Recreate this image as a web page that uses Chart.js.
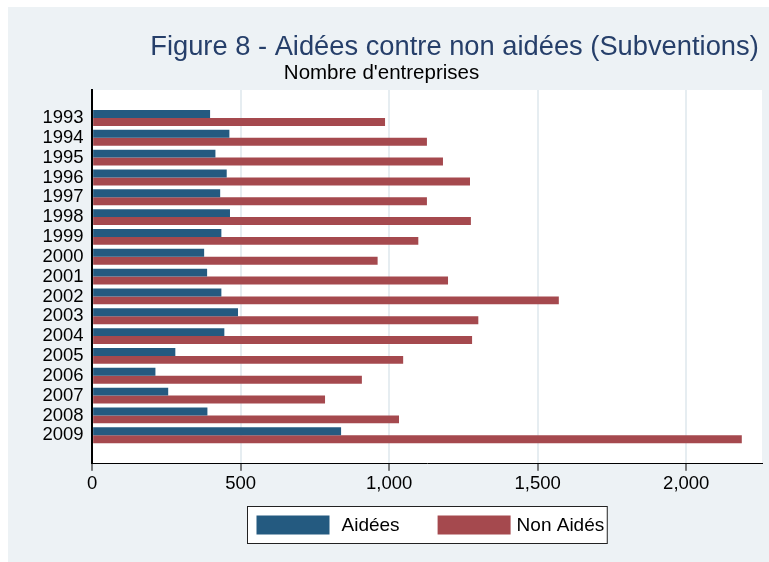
<!DOCTYPE html>
<html>
<head>
<meta charset="utf-8">
<script src="https://cdn.jsdelivr.net/npm/chart.js@4/dist/chart.umd.min.js"></script>
<style>
  html, body { margin: 0; padding: 0; background: #fff; }
  #fig { position: absolute; left: 8px; top: 7px; width: 761px; height: 555px; background: #EDF2F5; }
</style>
</head>
<body>
<div id="fig"><canvas id="chartSubv" width="761" height="555"></canvas></div>
<script>
// Données (nombre d'entreprises)
const annees = [1993, 1994, 1995, 1996, 1997, 1998, 1999, 2000, 2001, 2002, 2003, 2004, 2005, 2006, 2007, 2008, 2009];
const aidees = [397, 462, 415, 453, 431, 464, 435, 377, 387, 435, 491, 445, 280, 213, 256, 388, 838];
const nonAidees = [986, 1127, 1181, 1272, 1127, 1275, 1098, 961, 1198, 1571, 1300, 1279, 1047, 908, 784, 1033, 2187];
const ticksX = [0, 500, 1000, 1500, 2000];

const titre = 'Figure 8 - Aidées contre non aidées (Subventions)';
const sousTitre = "Nombre d'entreprises";

Chart.defaults.font.family = "'Liberation Sans', Arial, sans-serif";
Chart.defaults.color = '#000';

// fond blanc de la zone du graphique
const fondBlanc = {
  id: 'fondBlanc',
  beforeDraw(chart) {
    const { ctx, chartArea: a } = chart;
    ctx.save();
    ctx.fillStyle = '#fff';
    ctx.fillRect(a.left, a.top, a.right - a.left, a.bottom - a.top);
    ctx.restore();
  }
};

// titre + sous-titre
const titresStata = {
  id: 'titresStata',
  afterDraw(chart) {
    const ctx = chart.ctx;
    ctx.save();
    ctx.textAlign = 'center';
    ctx.textBaseline = 'alphabetic';
    ctx.fillStyle = '#263F6A';
    ctx.font = "27.3px 'Liberation Sans', Arial, sans-serif";
    ctx.fillText(titre, 446.5, 48);
    ctx.fillStyle = '#000';
    ctx.font = "20.5px 'Liberation Sans', Arial, sans-serif";
    ctx.fillText(sousTitre, 373.5, 72);
    ctx.restore();
  }
};

// légende encadrée en bas
const legendeStata = {
  id: 'legendeStata',
  afterDraw(chart) {
    const ctx = chart.ctx;
    const ds = chart.data.datasets;
    ctx.save();
    ctx.font = "19px 'Liberation Sans', Arial, sans-serif";
    const w0 = ctx.measureText(ds[0].label).width;
    const w1 = ctx.measureText(ds[1].label).width;
    const boxW = 9 + 73 + 12 + w0 + 38 + 73 + 6 + w1 + 3;
    const cx = (chart.chartArea.left + chart.chartArea.right) / 2 - 0.5;
    const x0 = Math.round(cx - boxW / 2) + 0.5, y0 = 499.5, h = 37;
    ctx.fillStyle = '#fff';
    ctx.fillRect(x0, y0, boxW, h);
    ctx.strokeStyle = '#222';
    ctx.lineWidth = 1;
    ctx.strokeRect(x0, y0, boxW, h);
    ctx.textBaseline = 'middle';
    let x = x0 + 9;
    ctx.fillStyle = ds[0].backgroundColor;
    ctx.fillRect(x, y0 + 9, 73, 19);
    x += 73 + 12;
    ctx.fillStyle = '#000';
    ctx.fillText(ds[0].label, x, y0 + h / 2 + 1);
    x += w0 + 38;
    ctx.fillStyle = ds[1].backgroundColor;
    ctx.fillRect(x, y0 + 9, 73, 19);
    x += 73 + 6;
    ctx.fillStyle = '#000';
    ctx.fillText(ds[1].label, x, y0 + h / 2 + 1);
    ctx.restore();
  }
};

const ctxSubv = document.getElementById('chartSubv').getContext('2d');

new Chart(ctxSubv, {
  type: 'bar',
  data: {
    datasets: [{
      label: 'Aidées',
      data: annees.map((a, i) => ({ x: aidees[i], y: a })),
      backgroundColor: '#245A80',
      categoryPercentage: 0.8,
      barPercentage: 1
    }, {
      label: 'Non Aidés',
      data: annees.map((a, i) => ({ x: nonAidees[i], y: a })),
      backgroundColor: '#A5494E',
      categoryPercentage: 0.8,
      barPercentage: 1
    }]
  },
  options: {
    indexAxis: 'y',
    responsive: false,
    animation: false,
    layout: { padding: { left: 26, right: 7, top: 83, bottom: 65 } },
    plugins: {
      legend: { display: false },
      title: { display: false },
      tooltip: { enabled: false }
    },
    scales: {
      x: {
        type: 'linear',
        position: 'bottom',
        min: 0,
        max: 2255,
        afterBuildTicks: s => { s.ticks = ticksX.map(v => ({ value: v })); },
        ticks: {
          font: { size: 18.5 },
          padding: 2,
          maxRotation: 0,
          autoSkip: false,
          callback: v => v.toLocaleString('en-US')
        },
        grid: {
          color: c => (c.tick && c.tick.value === 0) ? 'rgba(0,0,0,0)' : '#E6EDF1',
          lineWidth: 2,
          tickColor: '#000',
          tickLength: 7,
          tickWidth: 1
        },
        border: { color: '#000', width: 1 }
      },
      y: {
        type: 'linear',
        reverse: true,
        offset: false,
        min: 1991.59,
        max: 2010.44,
        afterBuildTicks: s => { s.ticks = annees.map(v => ({ value: v })); },
        ticks: {
          font: { size: 18.5 },
          padding: 8.5,
          autoSkip: false,
          callback: v => String(v)
        },
        grid: { display: false, drawTicks: false, offset: false },
        border: { color: '#000', width: 2 }
      }
    }
  },
  plugins: [fondBlanc, titresStata, legendeStata]
});
</script>
</body>
</html>
